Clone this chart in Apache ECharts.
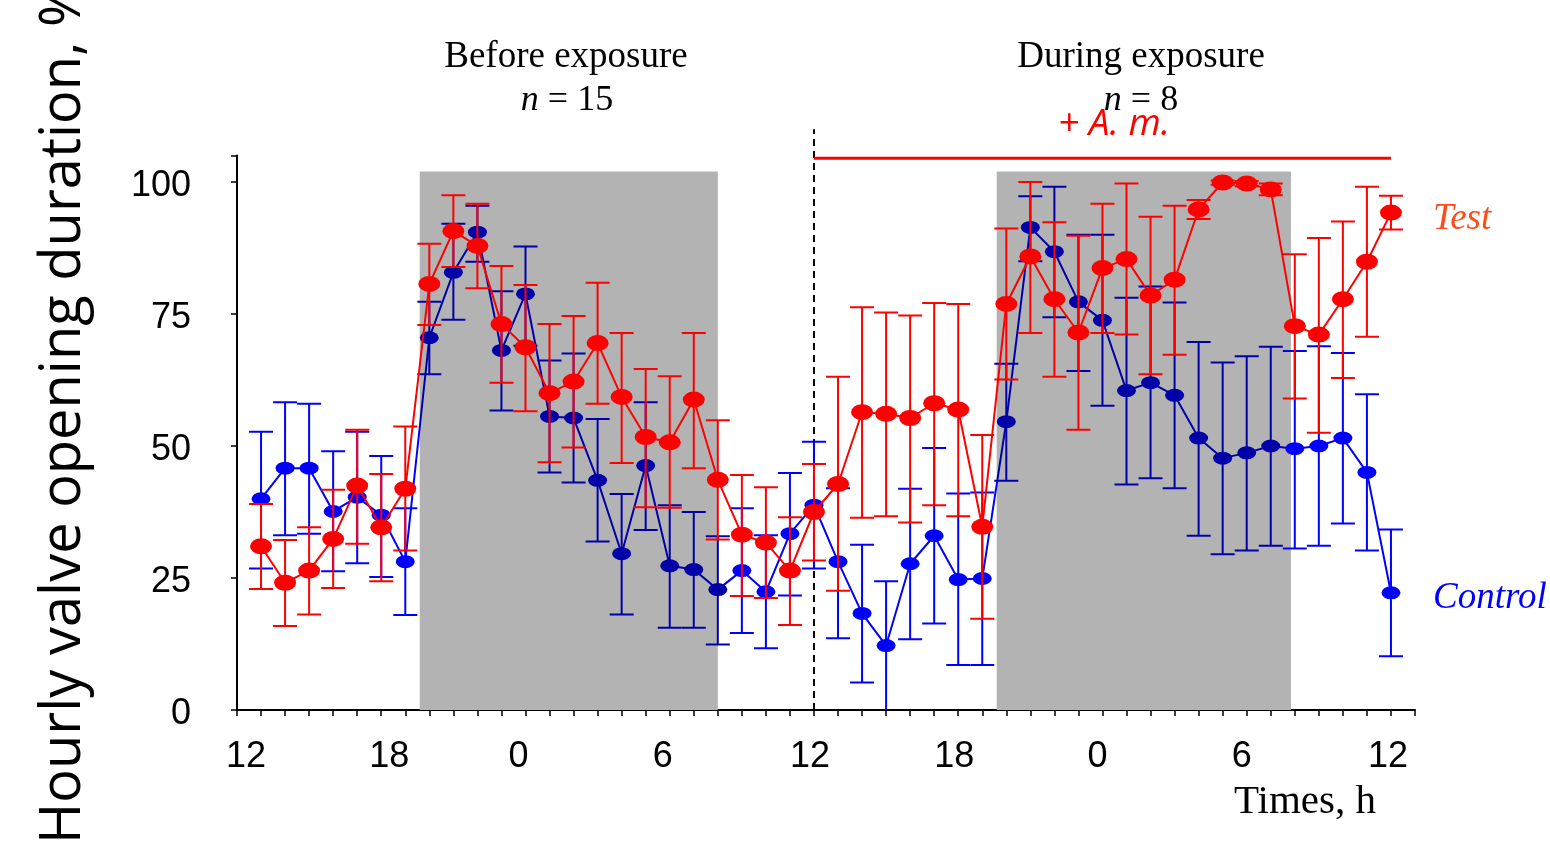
<!DOCTYPE html>
<html>
<head>
<meta charset="utf-8">
<script src="https://cdn.jsdelivr.net/npm/echarts@6/dist/echarts.min.js"></script>
<style>
  html, body { margin: 0; padding: 0; background: #fff; }
  #main { width: 1550px; height: 847px; }
</style>
</head>
<body>
<div id="main"></div>
<script>
// hours counted from 12:00 of the first day
const hours = [1, 2, 3, 4, 5, 6, 7, 8, 9, 10, 11, 12, 13, 14, 15, 16, 17, 18, 19, 20, 21, 22, 23, 24,
  25, 26, 27, 28, 29, 30, 31, 32, 33, 34, 35, 36, 37, 38, 39, 40, 41, 42, 43, 44, 45, 46, 47, 48];
const hourLabels = ["12", "18", "0", "6", "12", "18", "0", "6", "12"];

// Control (blue)
const control = [40.0, 45.8, 45.8, 37.6, 40.3, 36.9, 28.1, 70.5, 82.9, 90.5,
  68.1, 78.8, 55.6, 55.3, 43.5, 29.6, 46.3, 27.3, 26.6, 22.8,
  26.4, 22.4, 33.4, 38.8, 28.1, 18.3, 12.2, 27.7, 33.0, 24.7,
  24.9, 54.6, 91.4, 86.8, 77.3, 73.8, 60.5, 62.0, 59.6, 51.5,
  47.7, 48.7, 50.0, 49.5, 50.0, 51.5, 45.0, 22.2];
const controlHigh = [52.7, 58.3, 58.0, 49.0, 52.7, 48.1, 38.2, 77.3, 92.1, 95.5,
  79.3, 87.8, 66.2, 67.5, 55.1, 40.9, 58.3, 38.8, 37.5, 32.9,
  38.2, 33.1, 44.9, 50.8, 42.0, 31.3, 24.4, 41.9, 49.6, 41.0,
  41.2, 65.6, 97.3, 99.1, 90.0, 90.0, 78.1, 80.2, 77.2, 69.7,
  65.8, 67.0, 68.8, 68.0, 68.9, 67.6, 59.8, 34.2];
const controlLow = [26.8, 33.1, 33.4, 26.3, 27.8, 25.2, 18.0, 63.6, 73.9, 84.9,
  56.7, 69.0, 45.0, 43.1, 31.9, 18.1, 34.1, 15.6, 15.6, 12.4,
  14.6, 11.7, 21.7, 26.8, 13.6, 5.2, -2.0, 13.4, 16.4, 8.5,
  8.5, 43.4, 85.0, 74.4, 64.2, 57.6, 42.7, 43.9, 42.0, 33.0,
  29.5, 30.2, 31.1, 30.6, 31.1, 35.3, 30.2, 10.2];

// Test (red)
const test = [31.0, 24.1, 26.4, 32.4, 42.5, 34.6, 41.9, 80.7, 90.7, 87.9,
  73.1, 68.7, 60.0, 62.2, 69.5, 59.3, 51.7, 50.7, 58.8, 43.6,
  33.2, 31.7, 26.4, 37.5, 42.8, 56.4, 56.1, 55.3, 58.1, 56.9,
  34.7, 76.9, 85.9, 77.8, 71.5, 83.7, 85.4, 78.5, 81.5, 94.8,
  99.9, 99.7, 98.6, 72.7, 71.1, 77.8, 84.9, 94.2];
const testHigh = [39.0, 32.2, 34.6, 41.7, 53.1, 44.7, 53.7, 88.3, 97.5, 95.9,
  84.1, 80.5, 73.1, 74.6, 80.9, 71.4, 64.6, 63.2, 71.4, 54.9,
  44.5, 42.2, 36.5, 46.6, 63.1, 76.3, 75.3, 74.7, 77.1, 76.9,
  52.1, 91.2, 100.0, 92.4, 89.8, 95.9, 99.7, 93.4, 95.5, 96.6,
  100.3, 100.2, 99.7, 86.3, 89.4, 92.5, 99.1, 97.4];
const testLow = [22.9, 15.9, 18.1, 23.1, 31.5, 24.4, 30.2, 72.9, 83.9, 79.9,
  62.0, 56.6, 46.9, 49.7, 58.0, 46.8, 38.4, 38.3, 45.8, 32.3,
  21.6, 21.2, 16.1, 28.3, 22.6, 36.4, 36.7, 35.5, 38.8, 36.7,
  17.3, 62.6, 71.4, 63.1, 53.1, 71.4, 71.1, 63.6, 67.3, 93.0,
  99.5, 99.2, 97.5, 59.0, 52.5, 62.9, 70.7, 91.0];

// dark periods (grey), exposure period (red bar)
const darkPeriods = [[7.6, 20.0], [31.6, 43.84]];
const darkTop = 102;
const exposure = [24, 48];
const exposureLevel = 104.5;

const colors = {
  control: "#0000ff",
  controlDark: "#0000a8",
  test: "#ff0000",
  testLabel: "#ff4a1a",
  shade: "#b3b3b3",
};

const serif = '"Liberation Serif", "DejaVu Serif", serif';
const sans = '"Liberation Sans", Arial, sans-serif';

// small horizontal nudges of the hour labels, as placed in the original figure
const labelShift = [9, 8, -7, -7, -4, -4, -5, -5, -3];
let labelRich = {};
labelShift.forEach((d, i) => {
  labelRich["l" + i] = { padding: d > 0 ? [0, 0, 0, 2 * d] : [0, -2 * d, 0, 0] };
});

let inDark = (x) => darkPeriods.some((p) => x >= p[0] && x <= p[1]);

// error bars as custom series
function errorBars(low, high, colorFn, z) {
  return {
    type: "custom",
    z: z,
    clip: true,
    silent: true,
    data: hours.map((h, i) => [h, low[i], high[i]]),
    encode: { x: 0, y: [1, 2] },
    renderItem: function (params, api) {
      let x = api.value(0);
      let lo = api.coord([x, api.value(1)]);
      let hi = api.coord([x, api.value(2)]);
      let w = 12;
      let style = { stroke: colorFn(x), lineWidth: 2, fill: null };
      return {
        type: "group",
        children: [
          { type: "line", shape: { x1: lo[0], y1: lo[1], x2: hi[0], y2: hi[1] }, style: style },
          { type: "line", shape: { x1: lo[0] - w, y1: lo[1], x2: lo[0] + w, y2: lo[1] }, style: style },
          { type: "line", shape: { x1: hi[0] - w, y1: hi[1], x2: hi[0] + w, y2: hi[1] }, style: style },
        ],
      };
    },
  };
}

let myChart = echarts.init(document.getElementById("main"));

let option = {
  animation: false,
  backgroundColor: "#fff",
  grid: { left: 237, right: 135, top: 155.6, bottom: 137 },
  xAxis: {
    type: "value",
    min: 0,
    max: 49,
    interval: 1,
    splitLine: { show: false },
    axisLine: { lineStyle: { color: "#000", width: 2 } },
    axisTick: { length: 6, lineStyle: { color: "#000", width: 1.5 } },
    axisLabel: {
      margin: 29,
      fontSize: 36,
      fontFamily: sans,
      color: "#000",
      rich: labelRich,
      formatter: (v) => (v % 6 === 0 ? "{l" + v / 6 + "|" + hourLabels[v / 6] + "}" : ""),
    },
  },
  yAxis: {
    type: "value",
    min: 0,
    max: 105,
    interval: 25,
    splitLine: { show: false },
    axisLine: { show: true, lineStyle: { color: "#000", width: 2 } },
    axisTick: { show: true, length: 6, lineStyle: { color: "#000", width: 1.5 } },
    axisLabel: {
      margin: 46,
      fontSize: 36,
      fontFamily: sans,
      color: "#000",
      rich: { v: { fontSize: 36, fontFamily: sans, color: "#000", padding: [9, 0, 0, 0] } },
      formatter: (v) => (v % 25 === 0 && v <= 100 ? "{v|" + v + "}" : ""),
    },
  },
  visualMap: {
    show: false,
    type: "piecewise",
    seriesIndex: 2,
    dimension: 0,
    pieces: [
      { lt: darkPeriods[0][0], color: colors.control },
      { gte: darkPeriods[0][0], lte: darkPeriods[0][1], color: colors.controlDark },
      { gt: darkPeriods[0][1], lt: darkPeriods[1][0], color: colors.control },
      { gte: darkPeriods[1][0], lte: darkPeriods[1][1], color: colors.controlDark },
      { gt: darkPeriods[1][1], color: colors.control },
    ],
  },
  series: [
    // grey dark periods and the exposure start line
    {
      type: "line",
      z: 0,
      silent: true,
      clip: false,
      symbol: "none",
      data: [[exposure[0], 0], [exposure[0], 110]],
      lineStyle: { color: "#000", width: 2, type: [7, 5] },
      markArea: {
        silent: true,
        itemStyle: { color: colors.shade },
        data: darkPeriods.map((p) => [{ xAxis: p[0], yAxis: 0 }, { xAxis: p[1], yAxis: darkTop }]),
      },
    },
    errorBars(controlLow, controlHigh, (x) => (inDark(x) ? colors.controlDark : colors.control), 2),
    {
      name: "Control",
      type: "line",
      z: 3,
      data: hours.map((h, i) => [h, control[i]]),
      symbol: "circle",
      symbolSize: [19, 13],
      lineStyle: { width: 2 },
    },
    errorBars(testLow, testHigh, () => colors.test, 4),
    {
      name: "Test",
      type: "line",
      z: 5,
      data: hours.map((h, i) => [h, test[i]]),
      symbol: "circle",
      symbolSize: [22, 16],
      itemStyle: { color: colors.test },
      lineStyle: { color: colors.test, width: 2 },
    },
    // exposure bar
    {
      type: "line",
      z: 5,
      silent: true,
      clip: false,
      symbol: "none",
      data: [[exposure[0], exposureLevel], [exposure[1], exposureLevel]],
      lineStyle: { color: colors.test, width: 3 },
    },
  ],
  graphic: [
    {
      type: "text",
      x: 64,
      y: 844,
      rotation: Math.PI / 2,
      style: {
        text: "Hourly valve opening duration, %",
        font: '56px "Open Sans"',
        fill: "#000",
        textAlign: "left",
        textVerticalAlign: "middle",
      },
    },
    {
      type: "text",
      x: 566,
      y: 57,
      style: { text: "Before exposure", font: "37px " + serif, fill: "#000", textAlign: "center", textVerticalAlign: "middle" },
    },
    {
      type: "text",
      x: 567,
      y: 101,
      style: {
        text: "{i|n} = 15",
        rich: { i: { font: "italic 36px " + serif } },
        font: "36px " + serif,
        fill: "#000",
        textAlign: "center",
        textVerticalAlign: "middle",
      },
    },
    {
      type: "text",
      x: 1141,
      y: 57,
      style: { text: "During exposure", font: "37px " + serif, fill: "#000", textAlign: "center", textVerticalAlign: "middle" },
    },
    {
      type: "text",
      x: 1141,
      y: 101,
      style: {
        text: "{i|n} = 8",
        rich: { i: { font: "italic 36px " + serif } },
        font: "36px " + serif,
        fill: "#000",
        textAlign: "center",
        textVerticalAlign: "middle",
      },
    },
    {
      type: "text",
      x: 1114,
      y: 124,
      style: { text: "+ A. m.", font: 'italic 37px "Open Sans"', fill: colors.test, textAlign: "center", textVerticalAlign: "middle" },
    },
    {
      type: "text",
      x: 1433,
      y: 219,
      style: { text: "Test", font: "italic 37px " + serif, fill: colors.testLabel, textAlign: "left", textVerticalAlign: "middle" },
    },
    {
      type: "text",
      x: 1433,
      y: 598,
      style: { text: "Control", font: "italic 37px " + serif, fill: colors.control, textAlign: "left", textVerticalAlign: "middle" },
    },
    {
      type: "text",
      x: 1305,
      y: 802,
      style: { text: "Times, h", font: "41px " + serif, fill: "#000", textAlign: "center", textVerticalAlign: "middle" },
    },
  ],
};

myChart.setOption(option);
window.addEventListener("resize", function () {
  myChart.resize();
});
</script>
</body>
</html>
